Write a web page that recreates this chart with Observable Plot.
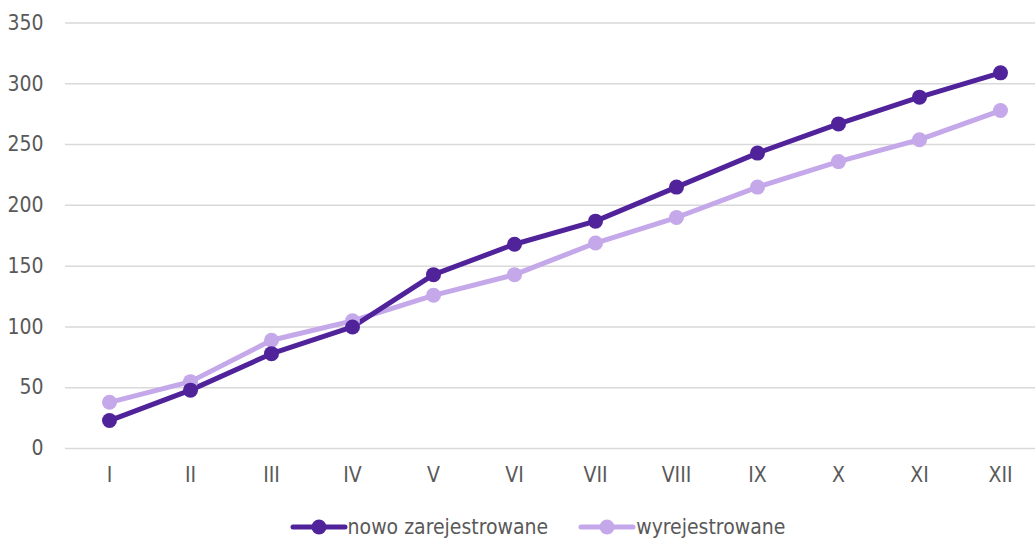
<!DOCTYPE html>
<html><head><meta charset="utf-8">
<script src="https://cdn.jsdelivr.net/npm/d3@7"></script>
<script src="https://cdn.jsdelivr.net/npm/@observablehq/plot@0.6"></script>
<style>
html,body{margin:0;padding:0;background:#fff;}
body{width:1035px;height:541px;overflow:hidden;font-family:"DejaVu Sans",sans-serif;font-stretch:condensed;}
svg text{font-stretch:condensed;}
#legend{display:flex;justify-content:center;align-items:center;gap:30px;height:36px;font-size:21px;color:#595959;font-family:"DejaVu Sans",sans-serif;font-stretch:condensed;margin-left:40px;margin-top:4px}
.item{display:flex;align-items:center;}
</style></head><body>
<div id="chart"></div>
<div id="legend"></div>
<script>
const months = ["I","II","III","IV","V","VI","VII","VIII","IX","X","XI","XII"];
const nowoZarejestrowane = [23,48,78,100,143,168,187,215,243,267,289,309];
const wyrejestrowane = [38,55,89,105,126,143,169,190,215,236,254,278];
const seriesNames = ["nowo zarejestrowane","wyrejestrowane"];
const seriesColors = ["#51239b","#c4a8e9"];
const yTicks = [0,50,100,150,200,250,300,350];

const data = [];
months.forEach((m,i)=>{
  data.push({month:m, value:nowoZarejestrowane[i], series:seriesNames[0]});
  data.push({month:m, value:wyrejestrowane[i], series:seriesNames[1]});
});
const order = [seriesNames[1], seriesNames[0]];
const plotData = order.flatMap(s => data.filter(d=>d.series===s));

const chart = Plot.plot({
  width:1035, height:505,
  marginLeft:105, marginRight:31, marginTop:22.5, marginBottom:57,
  style:{fontFamily:"'DejaVu Sans',sans-serif", fontStretch:"condensed", fontSize:"21px", color:"#595959", background:"#fff"},
  x:{type:"point", domain:months, padding:0, label:null, tickSize:0, tickPadding:19},
  y:{domain:[0,350], ticks:yTicks, label:null, tickSize:0, tickPadding:62},
  color:{domain:seriesNames, range:seriesColors},
  marks:[
    Plot.ruleY(yTicks, {stroke:"#d9d9d9", strokeWidth:1.5, insetLeft:-40, insetRight:-40}),
    Plot.line(plotData, {x:"month", y:"value", z:"series", stroke:"series", strokeWidth:5, strokeLinejoin:"round", strokeLinecap:"round"}),
    Plot.dot(plotData, {x:"month", y:"value", fill:"series", r:7.5, stroke:"none"})
  ]
});
document.getElementById("chart").appendChild(chart);

const leg = document.getElementById("legend");
seriesNames.forEach((n,i)=>{
  const it = document.createElement("div"); it.className="item";
  it.innerHTML = `<svg width="58" height="20"><line x1="3" y1="10" x2="55" y2="10" stroke="${seriesColors[i]}" stroke-width="5" stroke-linecap="round"/><circle cx="29" cy="10" r="7.5" fill="${seriesColors[i]}"/></svg><span>${n}</span>`;
  leg.appendChild(it);
});
</script>
</body></html>
